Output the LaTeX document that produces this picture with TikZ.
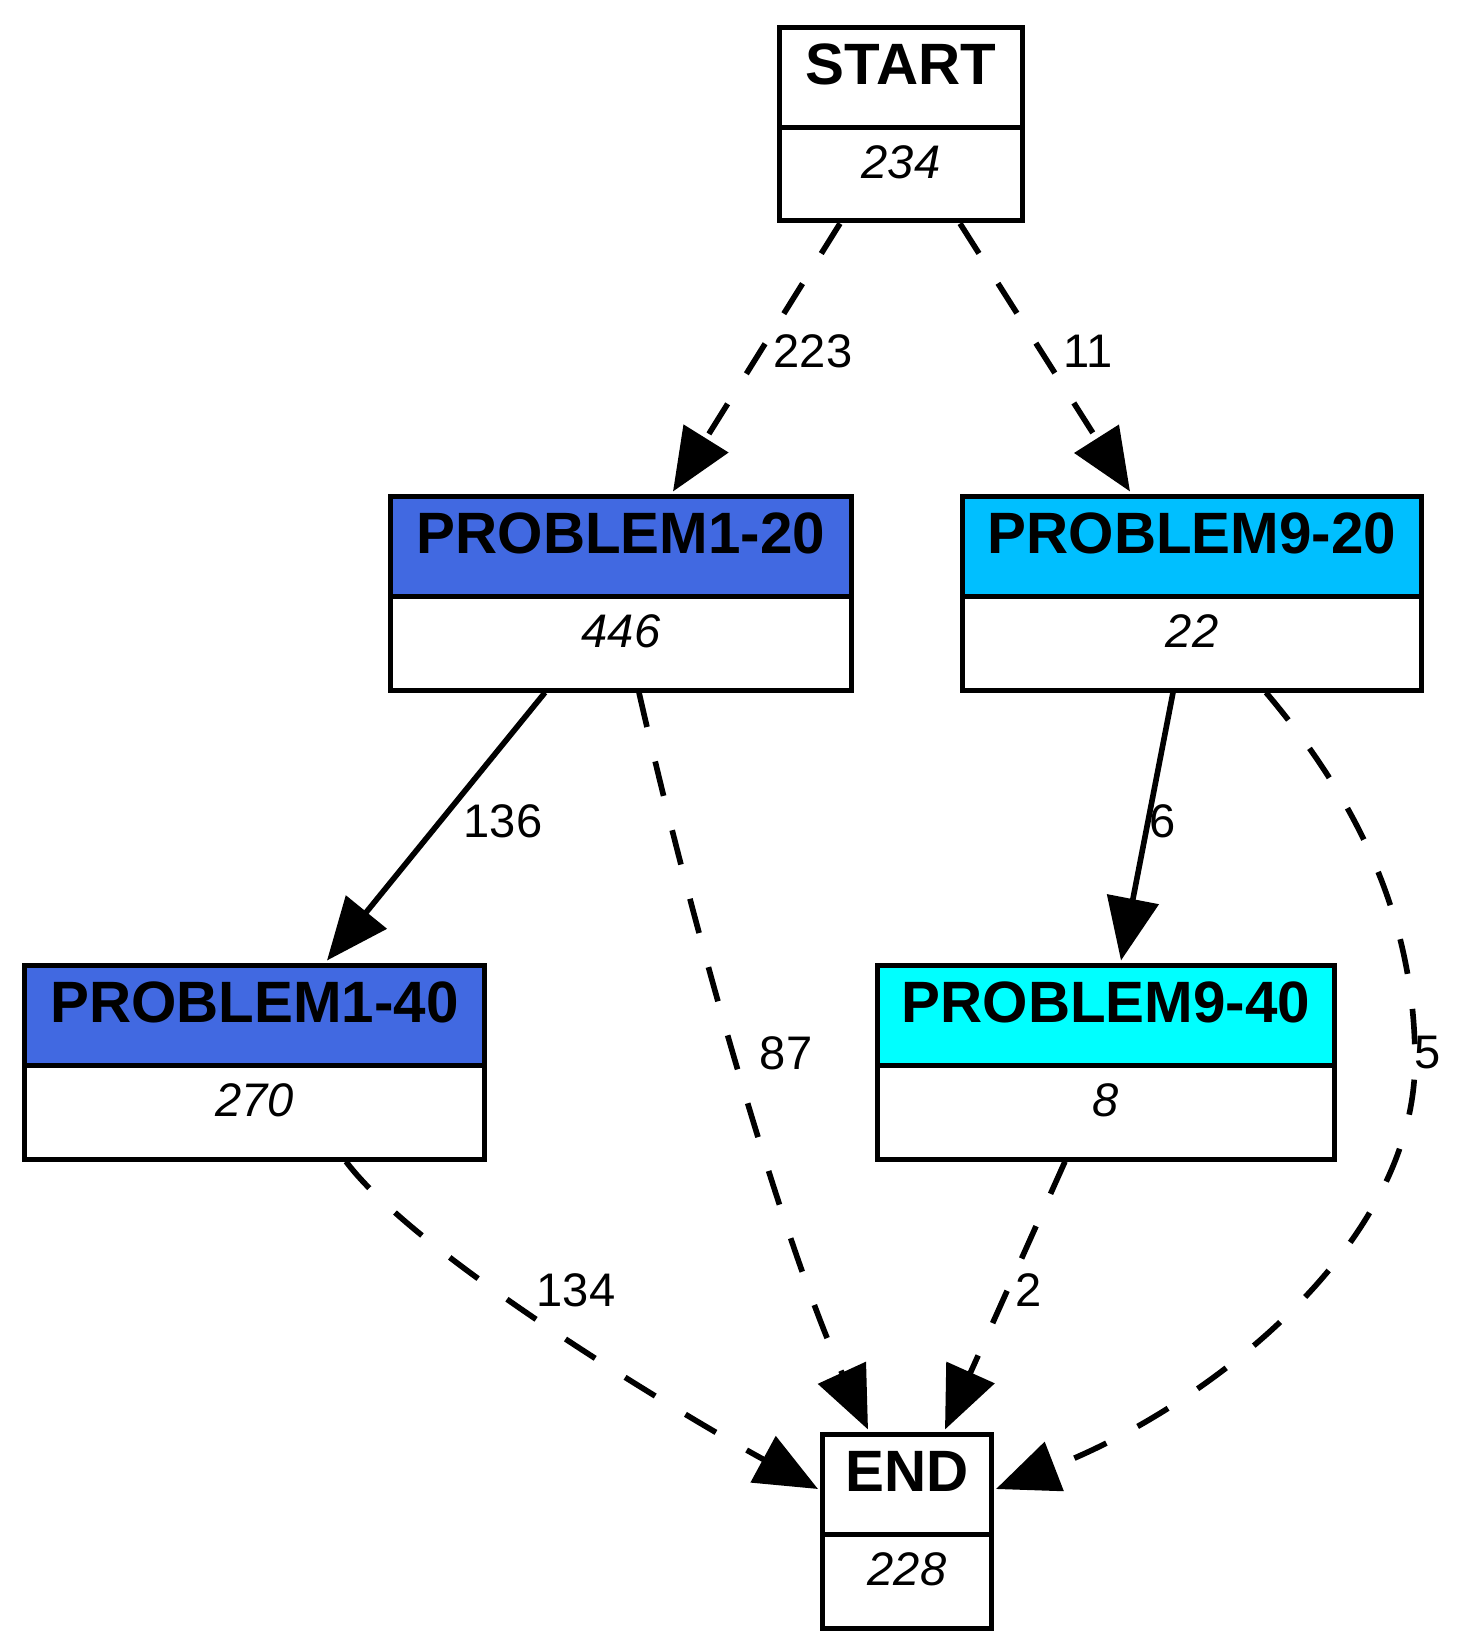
\documentclass[tikz,border=0pt]{standalone}
\usepackage{fontspec}
\setmainfont{Liberation Sans}
\usetikzlibrary{arrows.meta,calc}
\definecolor{royal}{RGB}{65,105,225}
\definecolor{deepsky}{RGB}{0,191,255}
\definecolor{cyanfill}{RGB}{0,255,255}
\begin{document}
\begin{tikzpicture}[x=0.24pt,y=-0.24pt,
  rec/.style={draw, line width=1.2pt, inner sep=0pt, minimum height=46.56pt, anchor=north,
    path picture={\fill[#1] (path picture bounding box.north west) rectangle ($(path picture bounding box.north east)+(0,103)$);}},
  divider/.style={line width=1.2pt},
  ttl/.style={font=\bfseries\fontsize{14}{14}\selectfont, inner sep=0pt},
  cnt/.style={font=\itshape\fontsize{11.3}{11.3}\selectfont, inner sep=0pt},
  lbl/.style={font=\fontsize{11.3}{11.3}\selectfont, inner sep=0pt},
  sedge/.style={line width=1.35pt, -{Triangle[length=15pt,width=12.4pt]}},
  dedge/.style={sedge, dash pattern=on 8.5pt off 8.5pt}]
\useasboundingbox (0,0) rectangle (1473,1650);

% record nodes
\node[rec=white,   minimum width=58.32pt]  (start) at (901,24.5) {};
\node[rec=royal,   minimum width=110.64pt] (p120)  at (621,493.5) {};
\node[rec=deepsky, minimum width=110.16pt] (p920)  at (1192,493.5) {};
\node[rec=royal,   minimum width=110.4pt]  (p140)  at (254.5,962.5) {};
\node[rec=cyanfill,minimum width=109.68pt] (p940)  at (1106,962.5) {};
\node[rec=white,   minimum width=40.56pt]  (end)   at (907,1431.5) {};

\foreach \n in {start,p120,p920,p140,p940,end}{
  \draw[divider] ($(\n.north west)+(0,103)$) -- ($(\n.north east)+(0,103)$);
}

\node[ttl] (startt) at ($(start.north)+(0,39.5)$) {START};
\node[cnt] (startc) at ($(start.north)+(0,137.5)$) {234};
\node[ttl] (p120t) at ($(p120.north)+(0,39.5)$) {PROBLEM1-20};
\node[cnt] (p120c) at ($(p120.north)+(0,137.5)$) {446};
\node[ttl] (p920t) at ($(p920.north)+(0,39.5)$) {PROBLEM9-20};
\node[cnt] (p920c) at ($(p920.north)+(0,137.5)$) {22};
\node[ttl] (p140t) at ($(p140.north)+(0,39.5)$) {PROBLEM1-40};
\node[cnt] (p140c) at ($(p140.north)+(0,137.5)$) {270};
\node[ttl] (p940t) at ($(p940.north)+(0,39.5)$) {PROBLEM9-40};
\node[cnt] (p940c) at ($(p940.north)+(0,137.5)$) {8};
\node[ttl] (endt) at ($(end.north)+(0,39.5)$) {END};
\node[cnt] (endc) at ($(end.north)+(0,137.5)$) {228};

% edges
\draw[dedge] ($(start.south)+(-61,0)$) -- ($(p120.north)+(52,-2)$);
\draw[dedge] ($(start.south)+(59,0)$) -- ($(p920.north)+(-62,-2)$);
\draw[sedge] ($(p120.south)+(-76,0)$) -- ($(p140.north)+(72.5,-2)$);
\draw[dedge] ($(p120.south)+(18,0)$) .. controls (700,960) and (790,1260) .. ($(end.north)+(-39,-2)$);
\draw[dedge] ($(p140.south)+(91.5,0)$) .. controls (420,1260) and (700,1425) .. ($(end.west)+(-2,-42)$);
\draw[sedge] ($(p920.south)+(-19,0)$) -- ($(p940.north)+(15,-2)$);
\draw[dedge] ($(p920.south)+(74,0)$) .. controls (1340,780) and (1415,900) .. (1415,1060)
  .. controls (1415,1250) and (1200,1410) .. ($(end.east)+(2,-42)$);
\draw[dedge] ($(p940.south)+(-41,0)$) -- ($(end.north)+(38,-2)$);

% edge labels
\node[lbl] (l223) at (813,351) {223};
\node[lbl] (l11)  at (1088,351) {11};
\node[lbl] (l136) at (503,821) {136};
\node[lbl] (l87)  at (786,1053) {87};
\node[lbl] (l6)   at (1163,821) {6};
\node[lbl] (l5)   at (1428,1053) {5};
\node[lbl] (l134) at (576,1290) {134};
\node[lbl] (l2)   at (1029,1290) {2};
\end{tikzpicture}
\end{document}
